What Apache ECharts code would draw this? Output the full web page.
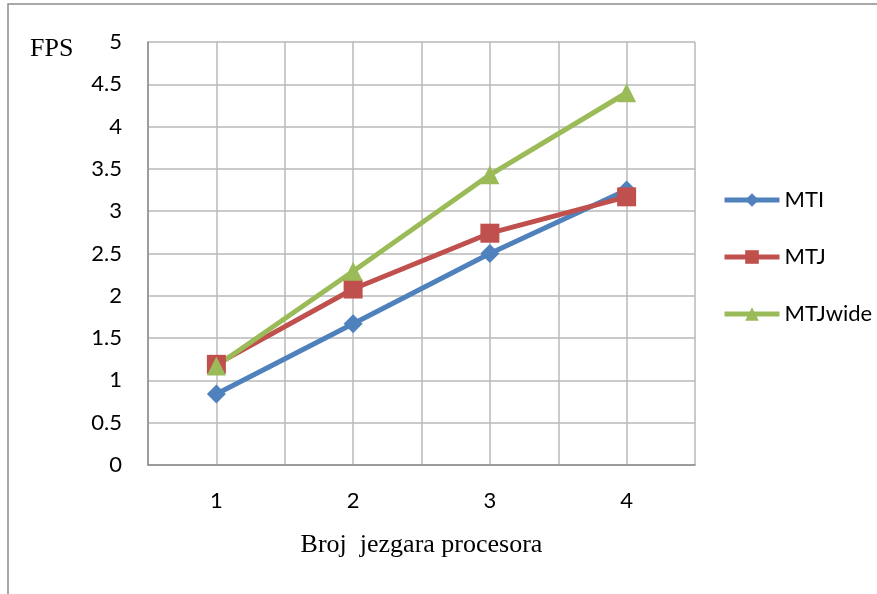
<!DOCTYPE html>
<html><head><meta charset="utf-8">
<script src="https://cdn.jsdelivr.net/npm/echarts@6/dist/echarts.min.js"></script>
<style>html,body{margin:0;padding:0;background:#fff}#c{width:877px;height:594px}</style>
</head><body><div id="c"></div>
<script>
const categories = [1, 2, 3, 4];
const mti = [0.84, 1.67, 2.5, 3.25];
const mtj = [1.19, 2.08, 2.74, 3.17];
const mtjWide = [1.17, 2.29, 3.43, 4.4];
const seriesNames = ['MTI', 'MTJ', 'MTJwide'];
const yTitle = 'FPS';
const xTitle = 'Broj  jezgara procesora';

const pair = arr => categories.map((c, i) => [c, arr[i]]);
const font = 'Lato, "Open Sans", sans-serif';
const chart = echarts.init(document.getElementById('c'));
chart.setOption({
  animation: false,
  backgroundColor: '#fff',
  grid: { left: 148, right: 182, top: 42, bottom: 129 },
  graphic: [
    { type: 'rect', shape: { x: 8, y: 4, width: 900, height: 620 }, style: { fill: 'none', stroke: '#8c8c8c', lineWidth: 1.5 } },
    { type: 'text', left: 30, top: 36, style: { text: yTitle, font: '26px "Liberation Serif", "Times New Roman", serif', fill: '#000' } }
  ],
  legend: {
    orient: 'vertical', left: 722, top: 189, padding: 0,
    itemWidth: 55, itemHeight: 17, itemGap: 35,
    lineStyle: { width: 5 },
    textStyle: { fontFamily: font, fontSize: 22, color: '#000' },
    data: seriesNames
  },
  xAxis: {
    type: 'value', min: 0.5, max: 4.5, interval: 0.5,
    axisLine: { show: true, lineStyle: { color: '#8c8c8c', width: 1.5 } },
    axisTick: { show: false },
    axisLabel: { margin: 25, fontFamily: font, fontSize: 22, color: '#000',
      formatter: v => (Number.isInteger(v) && categories.includes(v)) ? String(v) : '' },
    splitLine: { show: true, lineStyle: { color: '#b8b8b8', width: 1.5 } },
    name: xTitle, nameLocation: 'middle', nameGap: 67,
    nameTextStyle: { fontFamily: '"Liberation Serif", "Times New Roman", serif', fontSize: 26, color: '#000' }
  },
  yAxis: {
    type: 'value', min: 0, max: 5, interval: 0.5,
    axisLine: { show: true, lineStyle: { color: '#8c8c8c', width: 1.5 } },
    axisTick: { show: false },
    axisLabel: { margin: 26, fontFamily: font, fontSize: 22, color: '#000' },
    splitLine: { show: true, lineStyle: { color: '#b8b8b8', width: 1.5 } }
  },
  series: [
    { name: seriesNames[0], type: 'line', data: pair(mti), symbol: 'diamond', symbolSize: 19,
      lineStyle: { width: 5, color: '#4F81BD' }, itemStyle: { color: '#4F81BD' } },
    { name: seriesNames[1], type: 'line', data: pair(mtj), symbol: 'rect', symbolSize: 19,
      lineStyle: { width: 5, color: '#C0504D' }, itemStyle: { color: '#C0504D' } },
    { name: seriesNames[2], type: 'line', data: pair(mtjWide), symbol: 'triangle', symbolSize: 19,
      lineStyle: { width: 5, color: '#9BBB59' }, itemStyle: { color: '#9BBB59' } }
  ]
});
</script></body></html>
